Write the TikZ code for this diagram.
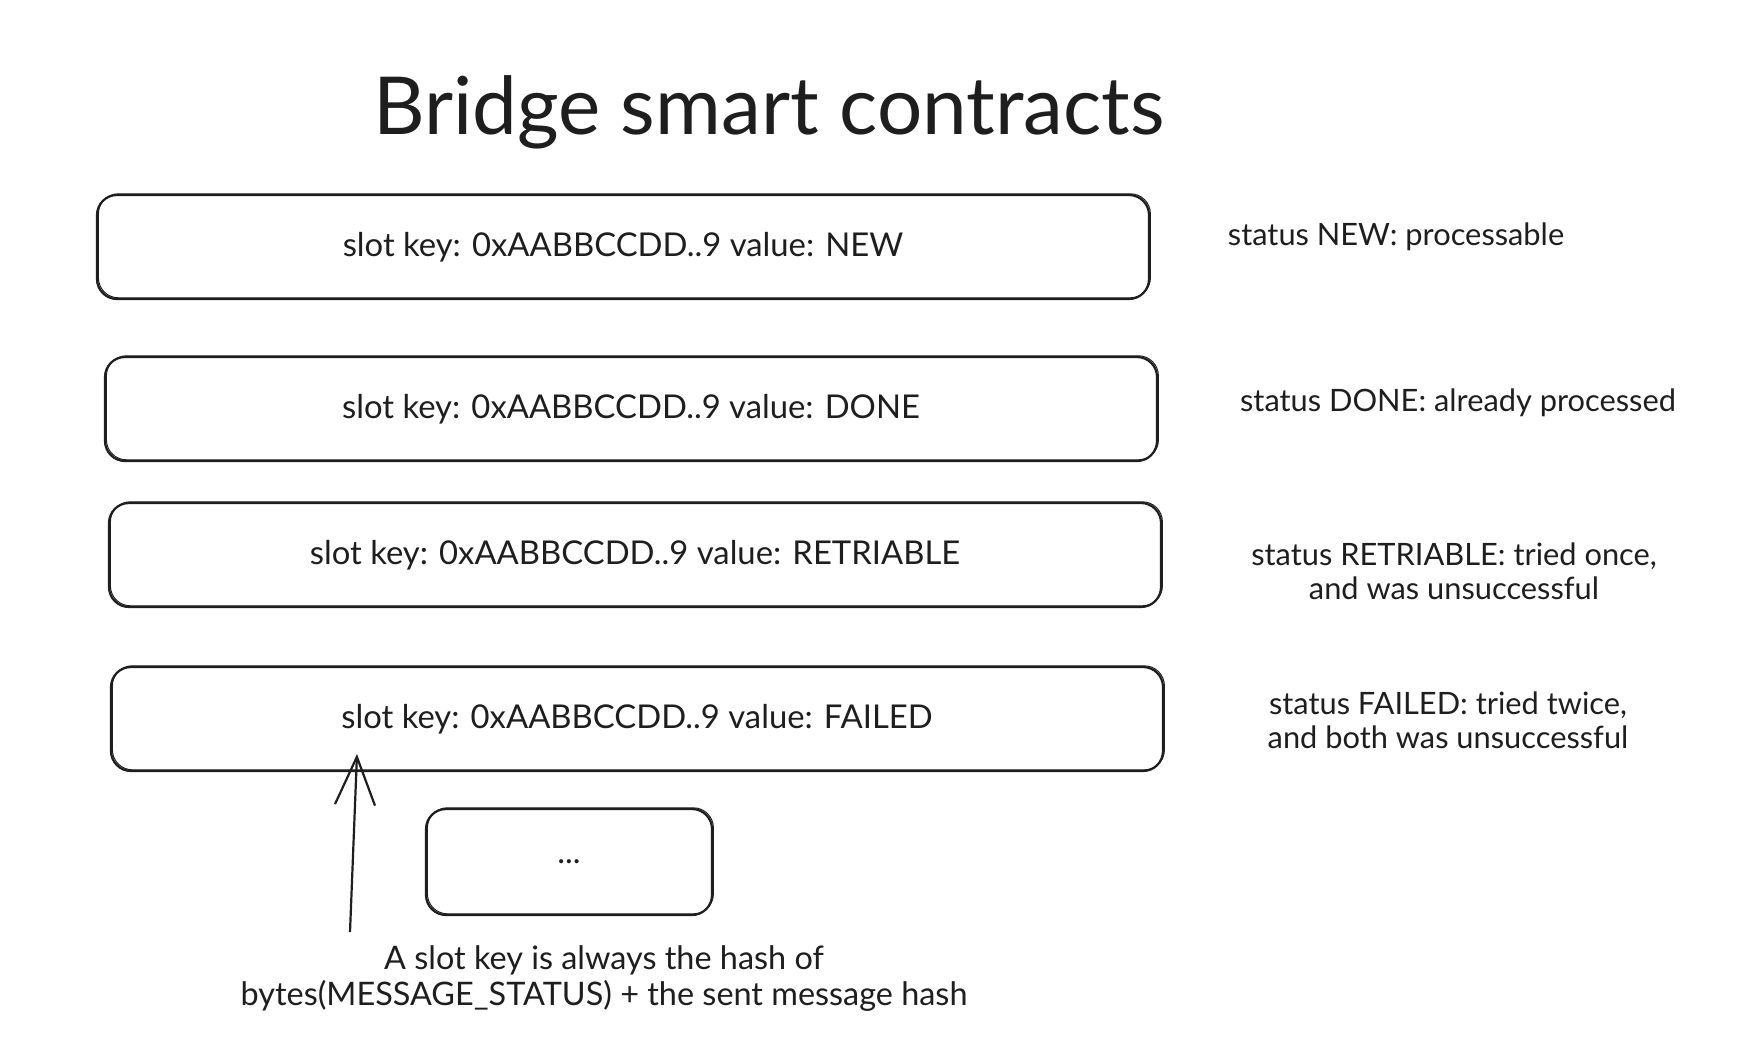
\documentclass[tikz,border=0pt]{standalone}
\usepackage{fontspec}
\setmainfont{Lato}
\usetikzlibrary{positioning, arrows.meta}
\definecolor{ink}{HTML}{1E1E1E}

\begin{document}
\begin{tikzpicture}[x=0.5pt,y=-0.5pt,>={Straight Barb[length=24pt,width=20pt]},
  slot/.style={draw=ink, line width=1.1pt, rounded corners=10pt, minimum width=526pt, minimum height=52pt,
    font=\fontsize{16.4}{19}\selectfont, text=ink,
    postaction={draw=ink, line width=0.5pt, rounded corners=11pt, transform canvas={shift={(0.7pt,0.6pt)}}}},
  more/.style={slot, minimum width=143pt, minimum height=53pt},
  note/.style={align=center, font=\fontsize{15.4}{17}\selectfont, text=ink},
  semithick]
                \useasboundingbox (0,0) rectangle (1744,1062);
                \node[text=ink, font=\fontsize{40}{44}\selectfont] (title) at (769,112) {Bridge smart contracts};

                \node[slot] (new) at (623,247) {slot key: 0xAABBCCDD..9 value: NEW};
                \node[slot] (done) at (631,409) {slot key: 0xAABBCCDD..9 value: DONE};
                \node[slot] (retry) at (635,555) {slot key: 0xAABBCCDD..9 value: RETRIABLE};
                \node[slot] (failed) at (637,719) {slot key: 0xAABBCCDD..9 value: FAILED};
                \node[more] (dots) at (569,862) {...};

                \node[note] (newnote) at (1396,237) {status NEW: processable};
                \node[note] (donenote) at (1458,403) {status DONE: already processed};
                \node[note] (retrynote) at (1454,571) {status RETRIABLE: tried once,\\and was unsuccessful};
                \node[note] (failednote) at (1448,720) {status FAILED: tried twice,\\and both was unsuccessful};

                \node[note, font=\fontsize{16.2}{18}\selectfont] (keynote) at (604,979) {A slot key is always the hash of\\bytes(MESSAGE\_STATUS) + the sent message hash};

                \coordinate (keystart) at (350,932);
                \coordinate (keytip) at (357,754);
                \draw[->, draw=ink, line width=1.1pt] (keystart) -- (keytip);
            \end{tikzpicture}
\end{document}
